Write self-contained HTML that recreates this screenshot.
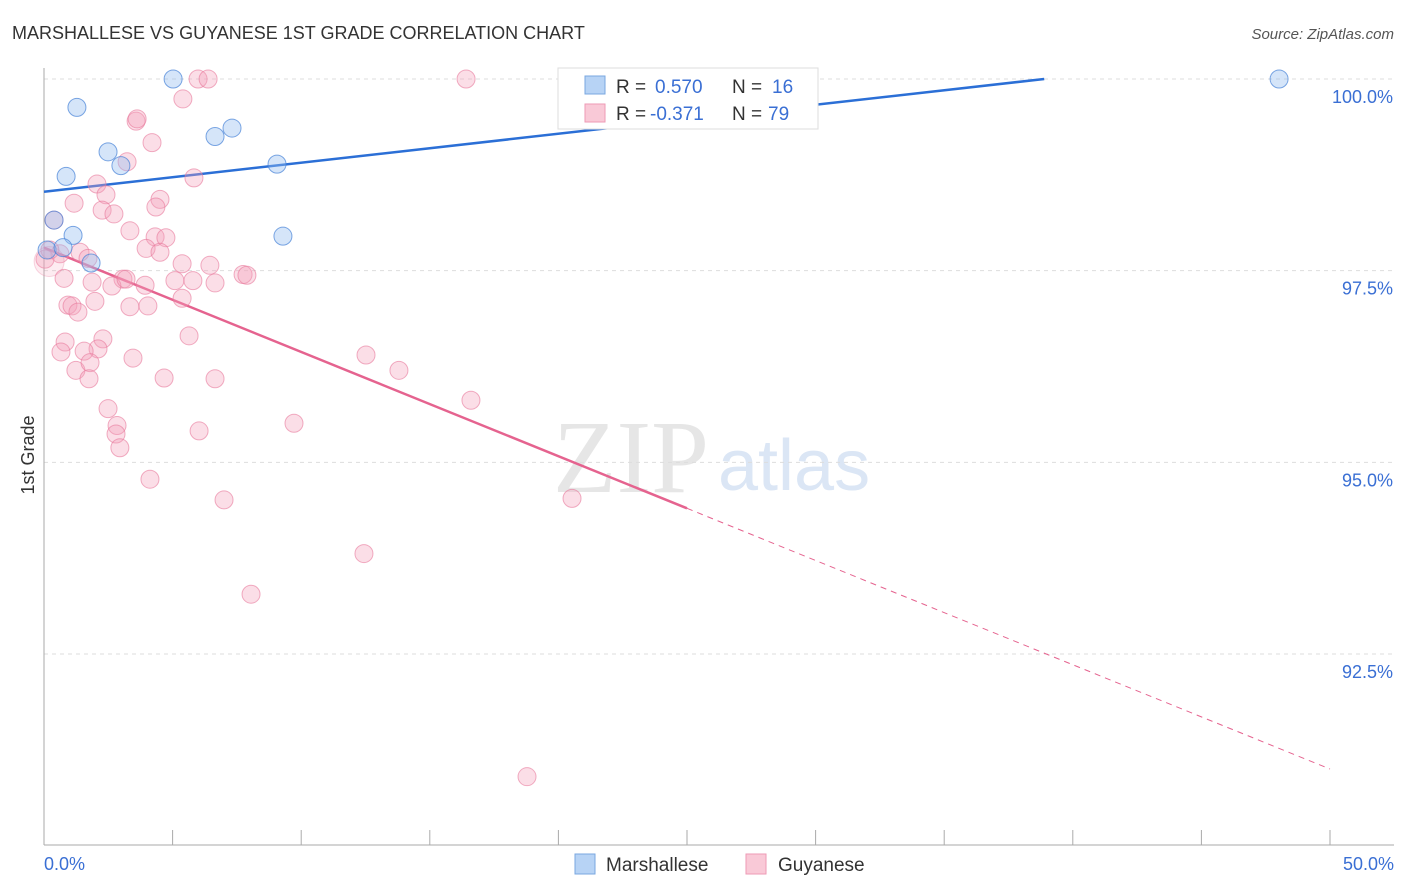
<!DOCTYPE html>
<html><head><meta charset="utf-8"><style>
body{margin:0;background:#fff;font-family:"Liberation Sans",sans-serif}
svg{display:block}
</style></head><body>
<svg id="chart" width="1406" height="892">
<text x="12" y="39" font-size="18" fill="#333">MARSHALLESE VS GUYANESE 1ST GRADE CORRELATION CHART</text>
<text x="1394" y="39" font-size="15" fill="#555" font-style="italic" text-anchor="end">Source: ZipAtlas.com</text>
<text transform="translate(34,455) rotate(-90)" font-size="18" fill="#333" text-anchor="middle">1st Grade</text>
<g><text x="553" y="492" font-size="104" fill="#e6e6e6" font-family="Liberation Serif,serif">ZIP</text><text x="718" y="490" font-size="72" fill="#dbe6f5">atlas</text></g>
<g id="grid"></g><g id="axes"></g><g id="trend"></g><g id="pts"></g>
<g>
<rect x="558" y="68" width="260" height="61" fill="#fff" stroke="#ddd"/>
<rect x="585" y="76" width="20" height="18" fill="#b7d3f5" stroke="#7aa7e0"/>
<text x="616" y="93" font-size="19" fill="#333">R =</text>
<text x="655" y="93" font-size="19" fill="#3a6fd4">0.570</text>
<text x="732" y="93" font-size="19" fill="#333">N =</text>
<text x="772" y="93" font-size="19" fill="#3a6fd4">16</text>
<rect x="585" y="104" width="20" height="18" fill="#f9c9d7" stroke="#ee9ab5"/>
<text x="616" y="120" font-size="19" fill="#333">R =</text>
<text x="650" y="120" font-size="19" fill="#3a6fd4">-0.371</text>
<text x="732" y="120" font-size="19" fill="#333">N =</text>
<text x="768" y="120" font-size="19" fill="#3a6fd4">79</text>
</g>
<g>
<rect x="575" y="854" width="20" height="20" fill="#b7d3f5" stroke="#7aa7e0"/>
<text x="606" y="871" font-size="19" fill="#333">Marshallese</text>
<rect x="746" y="854" width="20" height="20" fill="#f9c9d7" stroke="#ee9ab5"/>
<text x="778" y="871" font-size="19" fill="#333">Guyanese</text>
</g>
</svg>
<script>
const yTicks=[100,97.5,95,92.5];
const yTickLabels=["100.0%","97.5%","95.0%","92.5%"];
const xTickLabels=["0.0%","50.0%"];
const blueX=[5.02,27.64,48.02,1.28,7.31,6.65,2.49,2.99,9.06,0.86,0.39,1.13,9.29,1.83,0.12,0.74];
const blueY=[100,100,100,99.63,99.36,99.25,99.05,98.87,98.89,98.73,98.16,97.96,97.95,97.60,97.77,97.80];
const pinkX=[5.99,6.38,16.41,5.40,3.58,3.62,4.20,3.23,5.83,2.06,2.41,4.51,1.17,4.35,2.26,2.72,0.39,3.34,4.32,4.74,3.97,4.51,1.40,1.71,0.04,0.62,0.23,5.37,6.45,3.07,3.93,5.09,5.79,6.65,7.74,7.89,0.78,1.87,2.64,3.19,5.37,0.93,1.09,1.98,4.04,3.34,1.32,5.64,2.29,0.82,0.66,2.10,1.56,3.46,12.52,13.80,1.24,1.79,4.67,6.65,1.75,16.60,2.49,2.84,9.72,6.03,2.80,2.95,4.12,7.00,20.53,12.44,8.05,18.78,0.2];
const pinkY=[100,100,100,99.74,99.45,99.48,99.17,98.92,98.71,98.63,98.49,98.43,98.38,98.33,98.29,98.24,98.16,98.02,97.94,97.93,97.79,97.74,97.74,97.66,97.65,97.72,97.77,97.59,97.57,97.39,97.31,97.37,97.37,97.34,97.45,97.44,97.40,97.35,97.30,97.39,97.14,97.05,97.04,97.10,97.04,97.03,96.96,96.65,96.61,96.57,96.44,96.48,96.45,96.36,96.40,96.20,96.20,96.30,96.10,96.09,96.09,95.81,95.70,95.48,95.51,95.41,95.37,95.19,94.78,94.51,94.53,93.81,93.28,90.90,97.62];
const blueTrend=[98.53,0.0378];
const pinkTrend=[97.80,-0.136];
const NS='http://www.w3.org/2000/svg';
const X=v=>44+v/50*1286, Y=v=>79+(100-v)/2.5*191.67;
function mk(tag,attrs,parent){const e=document.createElementNS(NS,tag);for(const k in attrs)e.setAttribute(k,attrs[k]);document.getElementById(parent).appendChild(e);return e;}
yTicks.forEach((t,i)=>{
 const l=mk('line',{x1:44,x2:1394,y1:Y(t),y2:Y(t),stroke:'#ddd','stroke-dasharray':'4,4'},'grid');
 
 
 const tx=mk('text',{x:1393,y:Y(t)+24,'font-size':18,fill:'#3a6fd4','text-anchor':'end'},'grid');
 tx.textContent=yTickLabels[i];
 
 
});
const ax=mk('line',{x1:44,x2:44,y1:68,y2:845,stroke:'#aaa'},'axes');


const bx=mk('line',{x1:44,x2:1394,y1:845,y2:845,stroke:'#aaa'},'axes');


for(let i=0;i<=10;i++){const t=mk('line',{x1:X(i*5),x2:X(i*5),y1:830,y2:845,stroke:'#aaa'},'axes');
 
 }
[[0,'start',44],[50,'end',1394]].forEach((a,i)=>{const t=mk('text',{x:a[2],y:870,'font-size':18,fill:'#3a6fd4','text-anchor':a[1]},'axes');t.textContent=xTickLabels[i];
 
 });
const bEnd=(100-blueTrend[0])/blueTrend[1];
const bl=mk('line',{x1:X(0),y1:Y(blueTrend[0]),x2:X(bEnd),y2:Y(100),stroke:'#2b6fd6','stroke-width':2.5},'trend');


const pl=mk('line',{x1:X(0),y1:Y(pinkTrend[0]),x2:X(25),y2:Y(pinkTrend[0]+pinkTrend[1]*25),stroke:'#e5638f','stroke-width':2.5},'trend');


const pd=mk('line',{x1:X(25),y1:Y(pinkTrend[0]+pinkTrend[1]*25),x2:X(50),y2:Y(pinkTrend[0]+pinkTrend[1]*50),stroke:'#e5638f','stroke-width':1,'stroke-dasharray':'6,5'},'trend');


pinkX.forEach((v,i)=>{const big=i==pinkX.length-1;const c=mk('circle',{cx:X(v),cy:Y(pinkY[i]),r:big?15:9,fill:big?'rgba(244,160,186,0.2)':'rgba(244,160,186,0.35)',stroke:big?'rgba(232,120,155,0.3)':'rgba(232,120,155,0.6)','stroke-width':1},'pts');
 
 });
blueX.forEach((v,i)=>{const c=mk('circle',{cx:X(v),cy:Y(blueY[i]),r:9,fill:'rgba(150,190,240,0.4)',stroke:'rgba(70,130,215,0.7)','stroke-width':1},'pts');
 
 });
</script>
</body></html>
